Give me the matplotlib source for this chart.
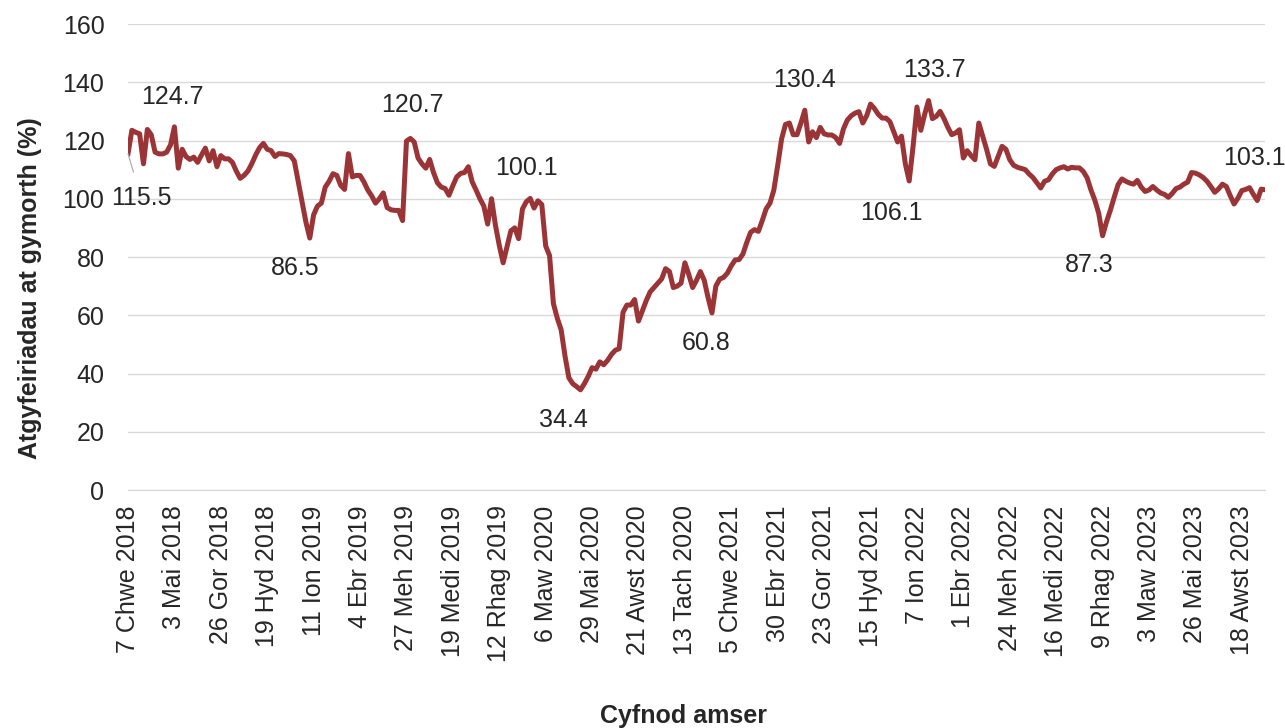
import matplotlib
matplotlib.use("Agg")
from matplotlib import pyplot as plt

plt.rcParams['font.family'] = ['Liberation Sans', 'DejaVu Sans']

# weekly referrals as % of baseline
referrals = [
    115.5, 123.5, 122.8, 122.3, 112.0, 123.8, 122.0, 116.0, 115.4, 115.4,
    116.0, 118.5, 124.7, 110.5, 117.0, 114.5, 113.5, 114.3, 112.5, 115.0,
    117.4, 113.0, 116.5, 111.0, 114.8, 113.7, 113.7, 112.5, 109.5, 107.0,
    108.0, 109.5, 112.0, 115.0, 117.5, 119.0, 117.0, 116.5, 114.5, 115.5,
    115.4, 115.2, 114.8, 113.0, 106.0, 99.0, 92.0, 86.5, 94.5, 97.5,
    98.5, 104.0, 106.0, 108.6, 108.0, 104.6, 103.2, 115.5, 107.5, 108.0,
    108.0, 105.8, 103.0, 101.0, 98.5, 100.0, 102.0, 97.0, 96.2, 96.0,
    96.0, 92.5, 119.8, 120.7, 119.5, 114.0, 112.0, 110.5, 113.5, 109.0,
    105.5, 104.0, 103.5, 101.2, 104.5, 107.5, 108.7, 109.0, 111.0, 105.8,
    103.0, 100.0, 97.5, 91.3, 100.0, 91.0, 84.0, 78.0, 83.5, 89.0,
    90.0, 86.3, 96.5, 99.0, 100.1, 96.8, 99.3, 98.0, 83.8, 80.5,
    64.0, 59.0, 55.0, 46.0, 38.5, 36.5, 35.5, 34.4, 36.5, 39.0,
    42.0, 41.5, 44.0, 43.0, 44.5, 46.5, 48.0, 48.5, 61.0, 63.5,
    63.5, 65.4, 58.0, 61.5, 65.0, 68.0, 69.5, 71.0, 72.5, 76.0,
    75.0, 69.5, 70.0, 71.0, 78.0, 74.0, 69.5, 72.0, 75.0, 72.0,
    66.0, 60.8, 70.0, 72.4, 73.0, 74.5, 77.0, 79.0, 79.1, 81.0,
    85.0, 88.5, 89.4, 88.8, 92.5, 96.5, 98.5, 103.0, 111.5, 120.5,
    125.5, 126.0, 122.0, 122.0, 126.0, 130.4, 119.5, 123.0, 121.0, 124.5,
    122.3, 121.9, 121.9, 121.0, 119.0, 124.0, 127.0, 128.5, 129.4, 129.9,
    126.0, 128.5, 132.5, 131.0, 129.0, 127.7, 127.7, 126.5, 123.0, 119.5,
    121.5, 112.0, 106.1, 118.0, 131.5, 123.5, 129.0, 133.7, 127.5, 128.3,
    130.0, 127.5, 124.5, 122.0, 122.6, 123.7, 114.0, 116.5, 114.8, 113.4,
    126.0, 121.5, 117.0, 112.0, 111.1, 114.5, 118.0, 117.0, 113.4, 111.5,
    110.8, 110.4, 110.0, 108.5, 107.3, 105.5, 103.7, 106.0, 106.5, 108.5,
    110.0, 110.6, 111.0, 110.2, 110.8, 110.6, 110.6, 109.4, 107.2, 103.0,
    99.5, 95.0, 87.3, 92.0, 96.0, 100.5, 104.8, 106.8, 106.0, 105.4,
    105.0, 106.3, 104.0, 102.5, 103.0, 104.2, 103.0, 102.0, 101.5, 100.5,
    101.8, 103.5, 104.0, 105.0, 105.7, 109.0, 108.8, 108.2, 107.3, 106.0,
    104.2, 102.2, 103.4, 105.0, 104.2, 101.1, 98.2, 100.2, 102.8, 103.2,
    103.8, 101.5, 99.4, 103.3, 103.1,
]

tick_labels = [
    "7 Chwe 2018", "3 Mai 2018", "26 Gor 2018", "19 Hyd 2018", "11 Ion 2019",
    "4 Ebr 2019", "27 Meh 2019", "19 Medi 2019", "12 Rhag 2019", "6 Maw 2020",
    "29 Mai 2020", "21 Awst 2020", "13 Tach 2020", "5 Chwe 2021", "30 Ebr 2021",
    "23 Gor 2021", "15 Hyd 2021", "7 Ion 2022", "1 Ebr 2022", "24 Meh 2022",
    "16 Medi 2022", "9 Rhag 2022", "3 Maw 2023", "26 Mai 2023", "18 Awst 2023",
]

# weeks carrying a data label
labelled_weeks = [0, 12, 47, 73, 104, 117, 151, 175, 202, 207, 252, 294]

TICK_STEP = 12
LINE_COLOR = "#9b3436"
TEXT_COLOR = "#262626"
GRID_COLOR = "#d9d9d9"

# label offsets in pixels (dx, dy) from the point
label_offsets = [(13, -44), (-2, 30), (-15, -30), (2, 33), (-4, 30), (-17, -30),
                 (-6, -30), (0, 30), (-18, -32), (6, 31), (-13, -29), (-11, 32)]

fig = plt.figure(figsize=(12.85, 7.28), dpi=100)
ax = fig.add_axes([128 / 1285, 1 - 490 / 728, 1137 / 1285, 466 / 728])

weeks = list(range(len(referrals)))
ax.plot(weeks, referrals, color=LINE_COLOR, linewidth=3.6, solid_joinstyle="round", zorder=3)

ax.set_xlim(0, len(referrals) - 1)
ax.set_ylim(0, 160)
ax.set_yticks(range(0, 161, 20))
ax.set_xticks(range(0, len(referrals), TICK_STEP))
ax.set_xticklabels(tick_labels, rotation=90)
ax.tick_params(axis="x", length=0, pad=11, labelsize=18, colors=TEXT_COLOR)
ax.tick_params(axis="y", length=0, pad=17, labelsize=18, colors=TEXT_COLOR)

ax.grid(axis="y", color=GRID_COLOR, linewidth=1.0, zorder=0)
for side in ["top", "right", "left"]:
    ax.spines[side].set_visible(False)
ax.spines["bottom"].set_color(GRID_COLOR)

for idx, (dx, dy) in zip(labelled_weeks, label_offsets):
    arrow = None
    if idx == 0:
        arrow = dict(arrowstyle="-", color="#a6a6a6", lw=0.8, shrinkA=8, shrinkB=0)
    ax.annotate(f"{referrals[idx]:.1f}", xy=(idx, referrals[idx]),
                xytext=(dx * 0.72, dy * 0.72), textcoords="offset points",
                ha="center", va="center", fontsize=18, color=TEXT_COLOR,
                arrowprops=arrow, annotation_clip=False, zorder=4)

fig.text(0.0233, 1 - 288 / 728, "Atgyfeiriadau at gymorth (%)", rotation=90,
         ha="center", va="center", fontsize=18, fontweight="bold", color=TEXT_COLOR)
fig.text(683 / 1285, 1 - 716 / 728, "Cyfnod amser", ha="center", va="center",
         fontsize=18, fontweight="bold", color=TEXT_COLOR)

fig.savefig("out.png", dpi=100)
